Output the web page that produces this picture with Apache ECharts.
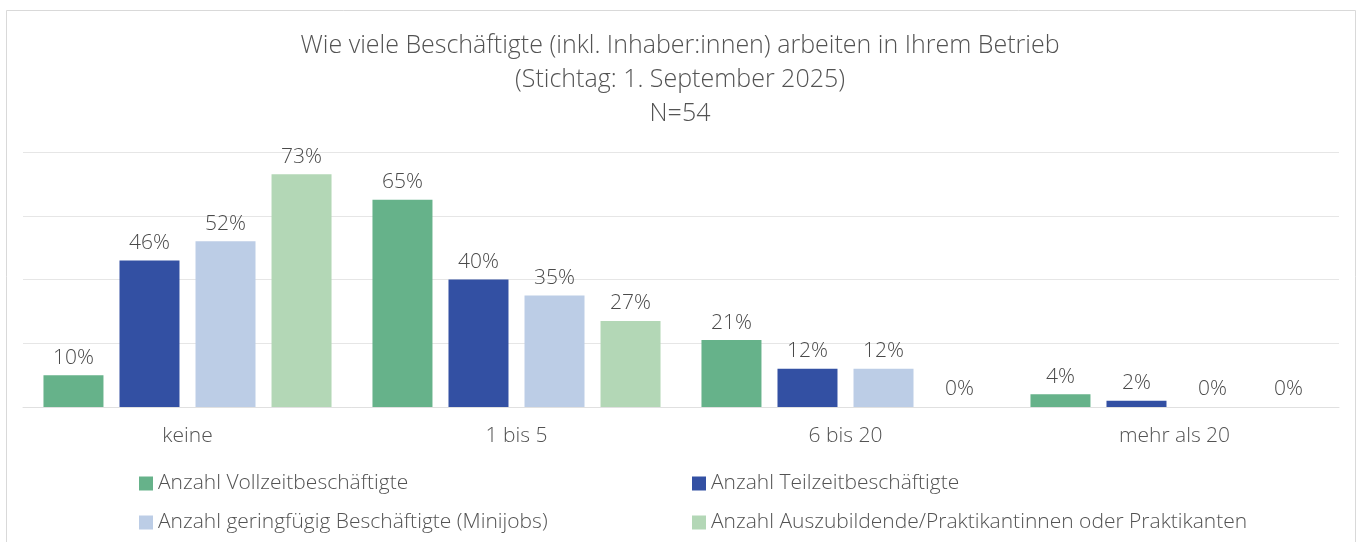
<!DOCTYPE html>
<html>
<head>
<meta charset="utf-8">
<script src="https://cdn.jsdelivr.net/npm/echarts@6/dist/echarts.min.js"></script>
<style>
html,body{margin:0;padding:0;background:#fff;}
#c{width:1360px;height:542px;}
</style>
</head>
<body>
<div id="c"></div>
<script>
const categories = ['keine', '1 bis 5', '6 bis 20', 'mehr als 20'];
const seriesNames = [
  'Anzahl Vollzeitbeschäftigte',
  'Anzahl Teilzeitbeschäftigte',
  'Anzahl geringfügig Beschäftigte (Minijobs)',
  'Anzahl Auszubildende/Praktikantinnen oder Praktikanten'
];
const vollzeit = [10, 65, 21, 4];
const teilzeit = [46, 40, 12, 2];
const minijobs = [52, 35, 12, 0];
const azubis = [73, 27, 0, 0];
const colors = ['#66b28a', '#3350a3', '#bccde6', '#b3d7b6'];
const titleText = 'Wie viele Beschäftigte (inkl. Inhaber:innen) arbeiten in Ihrem Betrieb\n(Stichtag: 1. September 2025)\nN=54';

const font = '"Open Sans", Lato, sans-serif';
const textColor = '#535353';
const values = [vollzeit, teilzeit, minijobs, azubis];

const chart = echarts.init(document.getElementById('c'));
chart.setOption({
  animation: false,
  backgroundColor: '#fff',
  color: colors,
  title: {
    text: titleText,
    left: 'center',
    top: 24,
    textStyle: { fontFamily: font, fontSize: 25, fontWeight: 300, color: textColor, lineHeight: 34 }
  },
  graphic: [{
    type: 'rect',
    shape: { x: 6.5, y: 10.5, width: 1349, height: 540 },
    style: { fill: 'none', stroke: '#d9d9d9', lineWidth: 1 },
    silent: true
  }],
  legend: [{
    data: [seriesNames[0], seriesNames[2]],
    orient: 'vertical',
    left: 134,
    top: 468,
    itemWidth: 14,
    itemHeight: 14,
    itemGap: 18,
    icon: 'rect',
    textStyle: { fontFamily: font, fontSize: 21, fontWeight: 300, color: textColor }
  }, {
    data: [seriesNames[1], seriesNames[3]],
    orient: 'vertical',
    left: 687,
    top: 468,
    itemWidth: 14,
    itemHeight: 14,
    itemGap: 18,
    icon: 'rect',
    textStyle: { fontFamily: font, fontSize: 21, fontWeight: 300, color: textColor }
  }],
  grid: { left: 23, right: 21, top: 152, bottom: 135, containLabel: false },
  xAxis: {
    type: 'category',
    data: categories,
    axisLine: { show: true, lineStyle: { color: '#e0e0e0' } },
    axisTick: { show: false },
    axisLabel: { fontFamily: font, fontSize: 21, fontWeight: 300, color: textColor, margin: 19 }
  },
  yAxis: {
    type: 'value',
    min: 0,
    max: 80,
    interval: 20,
    axisLabel: { show: false },
    axisLine: { show: false },
    axisTick: { show: false },
    splitLine: { lineStyle: { color: '#e6e6e6' } }
  },
  series: seriesNames.map((name, i) => ({
    name: name,
    type: 'bar',
    data: values[i],
    barWidth: 60,
    barGap: '26.7%',
    barCategoryGap: '12.5%',
    itemStyle: { color: colors[i] },
    label: {
      show: true,
      position: 'top',
      distance: 7,
      formatter: p => p.value + '%',
      fontFamily: font,
      fontSize: 21,
      fontWeight: 300,
      color: '#4a4a4a'
    }
  }))
});
</script>
</body>
</html>
